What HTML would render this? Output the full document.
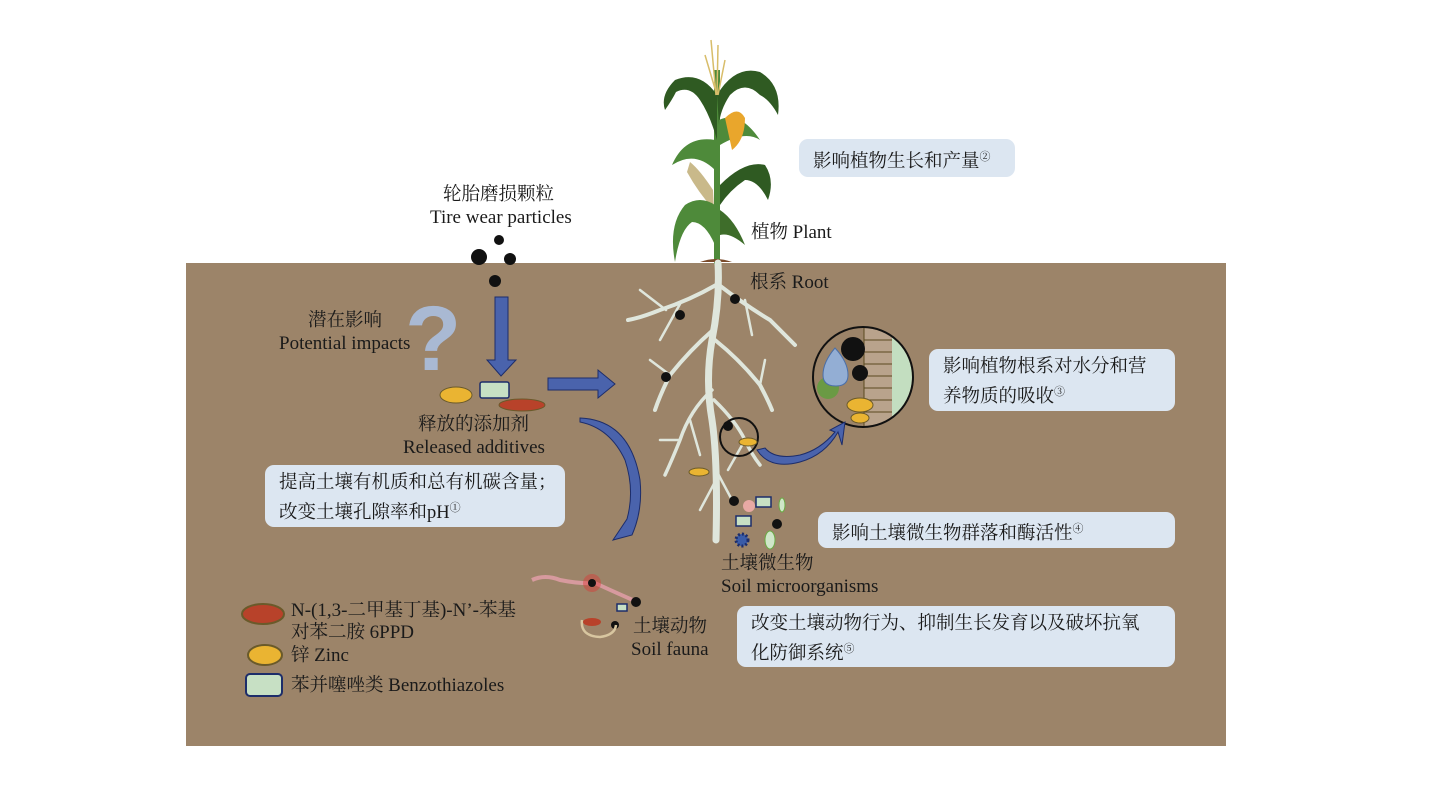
<!DOCTYPE html>
<html><head><meta charset="utf-8"><style>
body{margin:0;width:1439px;height:792px;background:#fff;position:relative;overflow:hidden;font-family:"Liberation Serif","Noto Serif CJK SC",serif;color:#1a1a1a}
.t{position:absolute;font-size:18.5px;line-height:22px;white-space:nowrap}
.t .l{font-size:19px}
.b{position:absolute;background:#dce6f1;border-radius:9px;font-size:18.5px;line-height:25px;padding:0 14px;box-sizing:border-box;white-space:nowrap}
sup{font-size:11px}
</style></head><body>
<svg width="1439" height="792" style="position:absolute;left:0;top:0">
<defs><clipPath id="c"><circle cx="863" cy="377" r="49"/></clipPath></defs>
<rect x="186" y="263" width="1040" height="483" fill="#9c8469"/>
<g>
<rect x="714" y="70" width="6" height="194" fill="#4e8a3a"/>
<path d="M700 262 Q716 256 732 262 Z" fill="#7a4a2a"/>
<path d="M717 95 Q700 70 675 80 Q660 95 665 110 Q672 100 676 92 Q690 85 700 100 Q710 115 717 140Z" fill="#2f5a22"/>
<path d="M717 95 Q735 65 760 72 Q782 85 778 115 Q770 100 760 95 Q745 80 730 95 Q720 110 719 125Z" fill="#2f5a22"/>
<path d="M719 120 Q740 110 760 140 Q745 130 720 145Z" fill="#4e8a3a"/>
<path d="M715 140 Q685 135 672 165 Q695 150 715 170Z" fill="#4e8a3a"/>
<path d="M725 118 Q738 105 745 118 Q745 140 732 150Z" fill="#e9a62c"/>
<path d="M713 190 Q700 170 690 162 L687 172 Q698 192 714 210Z" fill="#c9b98a"/>
<path d="M720 185 Q745 160 765 165 Q775 180 768 200 Q758 180 745 180 Q730 190 720 205Z" fill="#2f5a22"/>
<path d="M715 205 Q700 195 685 205 Q668 225 675 262 Q680 230 692 222 Q705 222 715 245Z" fill="#4e8a3a"/>
<path d="M720 210 Q735 220 745 245 Q730 232 720 235Z" fill="#3e6d2a"/>
<path d="M711 40 L716 95 M718 45 L717 95 M705 55 L716 92 M725 60 L718 95" stroke="#d8bd6a" stroke-width="1.5"/>
</g>
<g stroke="#dfe6dc" fill="none" stroke-linecap="round">
<path d="M718 263 Q720 300 712 340 Q705 380 712 420 Q718 460 716 540" stroke-width="7"/>
<path d="M716 285 Q690 300 660 310 Q640 318 628 320" stroke-width="4"/>
<path d="M719 285 Q745 305 770 320 Q785 335 795 345" stroke-width="4"/>
<path d="M713 330 Q690 350 670 375 Q660 395 655 410" stroke-width="4"/>
<path d="M715 340 Q740 360 760 385 Q768 400 772 410" stroke-width="4"/>
<path d="M712 390 Q690 410 680 440 Q672 460 665 475" stroke-width="3.5"/>
<path d="M714 400 Q735 420 745 440 Q752 455 760 465" stroke-width="3.5"/>
<path d="M666 310 L640 290 M680 304 L660 340 M745 300 L752 335 M670 375 L650 360 M760 385 L765 360 M690 420 L700 455 M745 440 L728 470 M680 440 L660 440 M716 480 L700 510 M716 470 L732 500" stroke-width="2.5"/>
</g>
<g fill="#111">
<circle cx="735" cy="299" r="5"/><circle cx="680" cy="315" r="5"/><circle cx="666" cy="377" r="5"/><circle cx="728" cy="426" r="5"/>
<circle cx="479" cy="257" r="8"/><circle cx="499" cy="240" r="5"/><circle cx="510" cy="259" r="6"/><circle cx="495" cy="281" r="6"/>
<circle cx="734" cy="501" r="5"/><circle cx="777" cy="524" r="5"/>
<circle cx="615" cy="625" r="4"/>
</g>
<ellipse cx="699" cy="472" rx="10" ry="4" fill="#eab432" stroke="#6a5a2a"/>
<circle cx="739" cy="437" r="19" fill="none" stroke="#111" stroke-width="2"/>
<ellipse cx="748" cy="442" rx="9" ry="4" fill="#eab432" stroke="#6a5a2a"/>
<circle cx="863" cy="377" r="50" fill="#9c8469"/>
<g clip-path="url(#c)">
<rect x="864" y="325" width="28" height="105" fill="#b9a38c"/>
<rect x="892" y="325" width="25" height="105" fill="#c3dec0"/>
<g stroke="#5a4a20"><path d="M864 325V430"/><path d="M864 340H892M864 352H892M864 364H892M864 376H892M864 388H892M864 400H892M864 412H892"/></g>
</g>
<circle cx="863" cy="377" r="50" fill="none" stroke="#111" stroke-width="2"/>
<circle cx="853" cy="349" r="12" fill="#111"/><circle cx="860" cy="373" r="8" fill="#111"/>
<circle cx="828" cy="388" r="11" fill="#6a9a44"/>
<path d="M835 348 Q848 362 848 375 Q848 386 836 386 Q823 386 823 375 Q823 362 835 348Z" fill="#93aed4" stroke="#4b6fa8"/>
<ellipse cx="860" cy="405" rx="13" ry="7" fill="#eab432" stroke="#6a5a2a"/><ellipse cx="860" cy="418" rx="9" ry="5" fill="#eab432" stroke="#6a5a2a"/>
<path d="M757 450 Q770 470 800 462 Q825 455 838 432 L842 445 L845 422 L830 430 L835 432 Q820 450 800 455 Q775 460 765 448Z" fill="#4a63ac" stroke="#1d2d6a"/>
<path d="M495 297 H508 V360 H516 L501 376 L487 360 H495Z" fill="#4a63ac" stroke="#1d2d6a"/>
<path d="M548 378 H598 V370 L615 384 L598 398 V390 H548Z" fill="#4a63ac" stroke="#1d2d6a"/>
<path d="M580 418 Q630 420 640 480 Q643 510 632 535 L613 540 L627 519 Q635 490 625 460 Q610 428 580 422Z" fill="#4a63ac" stroke="#1d2d6a"/>
<text x="405" y="370" font-size="92" font-family="Liberation Sans" font-weight="bold" fill="#a9b9d3">?</text>
<ellipse cx="456" cy="395" rx="16" ry="8" fill="#eab432" stroke="#6a5a2a"/>
<rect x="480" y="382" width="29" height="16" rx="2" fill="#c7e0c4" stroke="#1d2d6a" stroke-width="1.5"/>
<ellipse cx="522" cy="405" rx="23" ry="6" fill="#b8422a" stroke="#6a5a2a"/>
<circle cx="749" cy="506" r="6" fill="#e8a9a4"/>
<rect x="756" y="497" width="15" height="10" fill="#c7e0c4" stroke="#1d2d6a" stroke-width="1.5"/>
<rect x="736" y="516" width="15" height="10" fill="#c7e0c4" stroke="#1d2d6a" stroke-width="1.5"/>
<circle cx="742" cy="540" r="6" fill="#3a5ca8" stroke="#1d2d6a" stroke-dasharray="2 2" stroke-width="3"/>
<ellipse cx="770" cy="540" rx="5" ry="9" fill="#cfe6c8" stroke="#6aaa44"/>
<ellipse cx="782" cy="505" rx="3" ry="7" fill="#cfe6c8" stroke="#6aaa44"/>
<path d="M532 580 Q545 574 560 580 Q580 584 595 583 Q610 590 635 601" stroke="#d79a9e" stroke-width="4" fill="none"/>
<circle cx="592" cy="583" r="9" fill="#e03030" opacity=".4"/><circle cx="592" cy="583" r="4" fill="#111"/>
<circle cx="636" cy="602" r="5" fill="#111"/>
<rect x="617" y="604" width="10" height="7" fill="#c7e0c4" stroke="#1d2d6a" stroke-width="1.5"/>
<path d="M582 620 Q580 636 600 637 Q615 635 616 625" stroke="#d8c6a0" stroke-width="2.5" fill="none"/>
<ellipse cx="592" cy="622" rx="9" ry="4" fill="#b8422a"/>
<ellipse cx="263" cy="614" rx="21" ry="10" fill="#b8422a" stroke="#6a5a2a" stroke-width="2"/>
<ellipse cx="265" cy="655" rx="17" ry="10" fill="#eab432" stroke="#6a5a2a" stroke-width="2"/>
<rect x="246" y="674" width="36" height="22" rx="4" fill="#c7e0c4" stroke="#1d2d6a" stroke-width="2"/>
</svg>
<div class="t" style="left:443px;top:184px">轮胎磨损颗粒</div>
<div class="t" style="left:430px;top:207px"><span class="l">Tire wear particles</span></div>
<div class="t" style="left:308px;top:310px">潜在影响</div>
<div class="t" style="left:279px;top:333px"><span class="l">Potential impacts</span></div>
<div class="t" style="left:418px;top:414px">释放的添加剂</div>
<div class="t" style="left:403px;top:437px"><span class="l">Released additives</span></div>
<div class="t" style="left:751px;top:222px">植物 <span class="l">Plant</span></div>
<div class="t" style="left:750px;top:272px">根系 <span class="l">Root</span></div>
<div class="t" style="left:721px;top:553px">土壤微生物</div>
<div class="t" style="left:721px;top:576px"><span class="l">Soil microorganisms</span></div>
<div class="t" style="left:633px;top:616px">土壤动物</div>
<div class="t" style="left:631px;top:639px"><span class="l">Soil fauna</span></div>
<div class="t" style="left:291px;top:600px"><span class="l">N-(1,3-</span>二甲基丁基<span class="l">)-N’-</span>苯基</div>
<div class="t" style="left:291px;top:622px">对苯二胺 <span class="l">6PPD</span></div>
<div class="t" style="left:291px;top:645px">锌 <span class="l">Zinc</span></div>
<div class="t" style="left:291px;top:675px">苯并噻唑类 <span class="l">Benzothiazoles</span></div>
<div class="b" style="left:799px;top:139px;width:216px;height:38px;padding-top:6px">影响植物生长和产量<sup>②</sup></div>
<div class="b" style="left:929px;top:349px;width:246px;height:62px;padding-top:6px">影响植物根系对水分和营<br>养物质的吸收<sup>③</sup></div>
<div class="b" style="left:265px;top:465px;width:300px;height:62px;padding-top:6px">提高土壤有机质和总有机碳含量；<br>改变土壤孔隙率和pH<sup>①</sup></div>
<div class="b" style="left:818px;top:512px;width:357px;height:36px;padding-top:5px">影响土壤微生物群落和酶活性<sup>④</sup></div>
<div class="b" style="left:737px;top:606px;width:438px;height:61px;padding-top:6px">改变土壤动物行为、抑制生长发育以及破坏抗氧<br>化防御系统<sup>⑤</sup></div>
</body></html>
